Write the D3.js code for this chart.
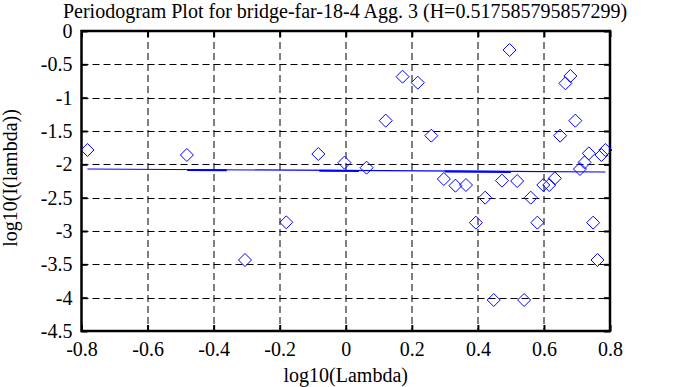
<!DOCTYPE html>
<html>
<head>
<meta charset="utf-8">
<script src="https://cdn.jsdelivr.net/npm/d3@7"></script>
<style>
  body { margin: 0; background: #fff; }
  text { font-family: 'Liberation Serif', 'DejaVu Serif', serif; }
</style>
</head>
<body>
<div id="chart"></div>
<script>
// periodogram points: log10(lambda) vs log10(I(lambda))
const logLambda = [-0.782, -0.481, -0.305, -0.180, -0.083, -0.004, 0.063, 0.121, 0.172, 0.218,
  0.259, 0.297, 0.332, 0.364, 0.394, 0.422, 0.448, 0.473, 0.496, 0.519,
  0.540, 0.560, 0.580, 0.598, 0.616, 0.633, 0.649, 0.665, 0.680, 0.695,
  0.709, 0.723, 0.736, 0.749, 0.762, 0.774, 0.786]
const logI = [-1.785, -1.86, -3.435, -2.87, -1.845, -1.975, -2.05, -1.345, -0.685, -0.775,
  -1.57, -2.22, -2.32, -2.31, -2.875, -2.5, -4.035, -2.245, -0.285, -2.25,
  -4.035, -2.5, -2.875, -2.31, -2.31, -2.21, -1.57, -0.785, -0.675, -1.345,
  -2.07, -1.97, -1.835, -2.875, -3.435, -1.86, -1.785]

// fitted line
const fitX = [-0.782, 0.786]
const fitY = [-2.07, -2.115]
// spots where the fitted line is drawn heavier
const heavyFrom = [-0.48, -0.08, 0.30]
const heavyTo = [-0.36, 0.04, 0.50]

const xTicks = [-0.8, -0.6, -0.4, -0.2, 0, 0.2, 0.4, 0.6, 0.8]
const yTicks = [0, -0.5, -1, -1.5, -2, -2.5, -3, -3.5, -4, -4.5]

const dimensions = {
  width: 678,
  height: 387,
  margin: { top: 31, right: 68, bottom: 56, left: 81.5 }
}
const innerW = dimensions.width - dimensions.margin.left - dimensions.margin.right
const innerH = dimensions.height - dimensions.margin.top - dimensions.margin.bottom
const FONT = '20px'

const svg = d3.select('#chart').append('svg')
  .attr('width', dimensions.width)
  .attr('height', dimensions.height)

const bounds = svg.append('g')
  .attr('transform', `translate(${dimensions.margin.left}, ${dimensions.margin.top})`)

const x = d3.scaleLinear().domain([-0.8, 0.8]).range([0, innerW])
const y = d3.scaleLinear().domain([-4.5, 0]).range([innerH, 0])

// grid
bounds.append('g').selectAll('line')
  .data(xTicks.slice(1, -1))
  .join('line')
  .attr('x1', d => Math.round(x(d)) + 0.5)
  .attr('x2', d => Math.round(x(d)) + 0.5)
  .attr('y1', 0)
  .attr('y2', innerH)
  .attr('stroke', '#000')
  .attr('stroke-dasharray', '7,4')

bounds.append('g').selectAll('line')
  .data(yTicks.slice(1, -1))
  .join('line')
  .attr('x1', 0)
  .attr('x2', innerW)
  .attr('y1', d => Math.round(y(d)) + 0.5)
  .attr('y2', d => Math.round(y(d)) + 0.5)
  .attr('stroke', '#000')
  .attr('stroke-dasharray', '7,4')

// axes with inward ticks
const fmt = d => String(d)
bounds.append('g')
  .attr('transform', `translate(0, ${innerH})`)
  .call(d3.axisBottom(x).tickValues(xTicks).tickFormat(fmt).tickSizeInner(-6).tickSizeOuter(0).tickPadding(11))
bounds.append('g')
  .call(d3.axisTop(x).tickValues(xTicks).tickFormat('').tickSizeInner(-6).tickSizeOuter(0))
bounds.append('g')
  .call(d3.axisLeft(y).tickValues(yTicks).tickFormat(fmt).tickSizeInner(-6).tickSizeOuter(0).tickPadding(9))
bounds.append('g')
  .attr('transform', `translate(${innerW}, 0)`)
  .call(d3.axisRight(y).tickValues(yTicks).tickFormat('').tickSizeInner(-6).tickSizeOuter(0))

bounds.selectAll('.domain').remove()
bounds.selectAll('.tick line').attr('stroke', '#000').attr('stroke-width', 2)
bounds.selectAll('.tick text')
  .style('font-family', "'Liberation Serif', serif")
  .style('font-size', FONT)
  .attr('fill', '#000')

bounds.append('rect')
  .attr('x', 0)
  .attr('y', 0)
  .attr('width', innerW)
  .attr('height', innerH)
  .attr('fill', 'none')
  .attr('stroke', '#000')
  .attr('stroke-width', 2.5)

// fitted line
const fitAt = v => fitY[0] + (fitY[1] - fitY[0]) * (v - fitX[0]) / (fitX[1] - fitX[0])
bounds.append('line')
  .attr('x1', x(fitX[0]))
  .attr('x2', x(fitX[1]))
  .attr('y1', y(fitY[0]))
  .attr('y2', y(fitY[1]))
  .attr('stroke', '#0000ff')
  .attr('stroke-width', 1.2)

bounds.append('g').selectAll('line')
  .data(heavyFrom)
  .join('line')
  .attr('x1', d => x(d))
  .attr('x2', (d, i) => x(heavyTo[i]))
  .attr('y1', d => y(fitAt(d)) + 0.5)
  .attr('y2', (d, i) => y(fitAt(heavyTo[i])) + 0.5)
  .attr('stroke', '#0000ff')
  .attr('stroke-width', 2)

// diamonds
const r = 6.5
bounds.append('g').selectAll('path')
  .data(logLambda)
  .join('path')
  .attr('d', (d, i) => {
    const cx = x(d)
    const cy = y(logI[i])
    return `M${cx},${cy - r}L${cx + r},${cy}L${cx},${cy + r}L${cx - r},${cy}Z`
  })
  .attr('fill', 'none')
  .attr('stroke', '#0000ff')
  .attr('stroke-width', 1)

// titles
svg.append('text')
  .attr('x', 345)
  .attr('y', 18)
  .attr('text-anchor', 'middle')
  .attr('font-size', FONT)
  .text('Periodogram Plot for bridge-far-18-4 Agg. 3 (H=0.517585795857299)')

svg.append('text')
  .attr('x', dimensions.margin.left + innerW / 2)
  .attr('y', 382)
  .attr('text-anchor', 'middle')
  .attr('font-size', FONT)
  .text('log10(Lambda)')

svg.append('text')
  .attr('transform', `translate(17, ${dimensions.margin.top + innerH / 2 - 3}) rotate(-90)`)
  .attr('text-anchor', 'middle')
  .attr('font-size', FONT)
  .text('log10(I(lambda))')
</script>
</body>
</html>
